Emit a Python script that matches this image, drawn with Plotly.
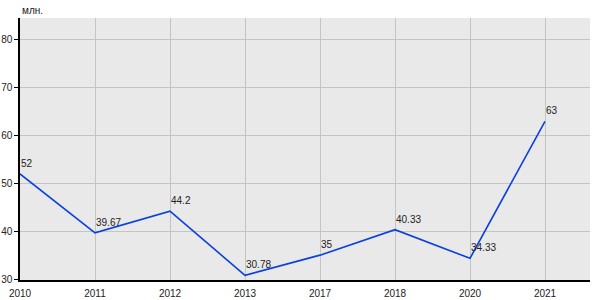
import plotly.graph_objects as go

years = ["2010", "2011", "2012", "2013", "2017", "2018", "2020", "2021"]
values = [52, 39.67, 44.2, 30.78, 35, 40.33, 34.33, 63]
labels = ["52", "39.67", "44.2", "30.78", "35", "40.33", "34.33", "63"]
y_ticks = [30, 40, 50, 60, 70, 80]
unit = "млн."

FONT = "Liberation Sans, Arial"
xs = list(range(len(years)))

fig = go.Figure()
fig.add_trace(go.Scatter(
    x=xs, y=values, mode="lines",
    line=dict(color="#0a3fe0", width=1.6),
    hoverinfo="skip",
))

annotations = [dict(
    x=x, y=v, text=t, xref="x", yref="y", xanchor="left", yanchor="bottom",
    xshift=-1, yshift=3, showarrow=False,
    font=dict(family=FONT, size=10, color="#222222"),
) for x, v, t in zip(xs, values, labels)]
annotations.append(dict(
    text=unit, xref="paper", yref="paper", x=0, y=1,
    xanchor="left", yanchor="bottom", yshift=0, showarrow=False,
    font=dict(family=FONT, size=10, color="#222222"),
))

fig.update_layout(
    width=600, height=300,
    margin=dict(l=20, r=10, t=18, b=20),
    paper_bgcolor="white", plot_bgcolor="#e9e9e9",
    showlegend=False,
    font=dict(family=FONT, size=10, color="#222222"),
    xaxis=dict(
        tickmode="array", tickvals=xs, ticktext=years,
        range=[0, 7.6], showgrid=True, gridcolor="#c4c4c4", gridwidth=1,
        showline=True, linecolor="black", linewidth=1.5,
        ticks="outside", ticklen=3, tickcolor="rgba(0,0,0,0)",
        zeroline=False, fixedrange=True, automargin=False,
    ),
    yaxis=dict(
        tickmode="array", tickvals=y_ticks, range=[29.8, 84.6],
        showgrid=True, gridcolor="#c4c4c4", gridwidth=1,
        showline=True, linecolor="black", linewidth=1.5,
        ticks="outside", ticklen=4, tickcolor="black",
        zeroline=False, fixedrange=True, automargin=False,
    ),
    annotations=annotations,
)

fig.write_html("out.html")
